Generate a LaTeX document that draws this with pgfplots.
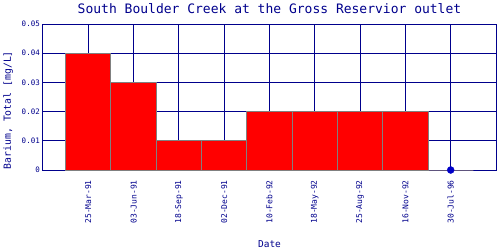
\documentclass[border=0pt]{standalone}
\usepackage{pgfplots}
\pgfplotsset{compat=1.18}
\usepackage{fontspec}
\setmainfont{DejaVu Sans Mono}
\definecolor{navy}{RGB}{0,0,140}
\definecolor{dotblue}{RGB}{0,0,200}
\definecolor{bargray}{RGB}{128,128,128}
\begin{document}
\begin{tikzpicture}
\useasboundingbox (-43bp,-80bp) rectangle (457bp,170bp);
\begin{axis}[
 at={(0,0)}, anchor=south west, scale only axis,
 width=453bp, height=146bp,
 xmin=-1, xmax=9, ymin=0, ymax=0.05,
 clip=false,
 xtick={0,1,2,3,4,5,6,7,8},
 xticklabels={25-Mar-91,03-Jun-91,18-Sep-91,02-Dec-91,10-Feb-92,18-May-92,25-Aug-92,16-Nov-92,30-Jul-96},
 ytick={0,0.01,0.02,0.03,0.04,0.05},
 yticklabels={0,0.01,0.02,0.03,0.04,0.05},
 scaled y ticks=false,
 grid=major,
 grid style={navy, line width=0.9bp},
 axis line style={navy, line width=1bp},
 major tick length=0pt,
 xticklabel style={rotate=90, anchor=east, font=\fontsize{8bp}{9bp}\selectfont, text=navy, inner sep=0pt},
 xticklabel shift=10bp,
 yticklabel style={font=\fontsize{7.5bp}{9bp}\selectfont, text=navy, inner sep=0pt},
 yticklabel shift=3bp,
 title={South Boulder Creek at the Gross Reservior outlet},
 title style={at={(axis description cs:0.5,1)}, anchor=center, yshift=9bp, font=\fontsize{13bp}{15bp}\selectfont, text=navy},
 xlabel={Date},
 xlabel style={at={(axis description cs:0.5,-0.507)}, anchor=center, font=\fontsize{9.5bp}{11bp}\selectfont, text=navy},
 ylabel={Barium, Total [mg/L]},
 ylabel style={at={(axis description cs:-0.077,0.41)}, anchor=center, font=\fontsize{9.8bp}{11bp}\selectfont, text=navy},
]
\addplot[ybar, bar width=1, bar shift=0pt, fill=red, draw=bargray, line width=1bp] coordinates {
(0,0.04) (1,0.03) (2,0.01) (3,0.01) (4,0.02) (5,0.02) (6,0.02) (7,0.02) (8,0)};
\addplot[only marks, mark=*, mark size=3.5bp, dotblue] coordinates {(8,0)};
\end{axis}
\end{tikzpicture}
\end{document}
